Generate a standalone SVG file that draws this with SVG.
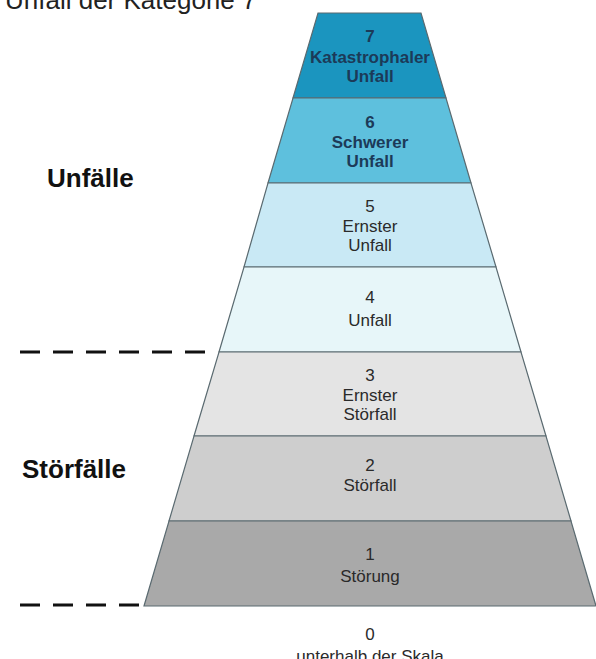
<svg xmlns="http://www.w3.org/2000/svg" width="596" height="659" viewBox="0 0 596 659">
<style>
.band{stroke:#5a6a70;stroke-width:1.2}
.t{font-family:"Liberation Sans",Arial,sans-serif;font-size:17px;text-anchor:middle}
.tb{fill:#1c3a58;font-weight:bold}
.tg{fill:#2a2a2a}
.side{font-family:"Liberation Sans",Arial,sans-serif;font-weight:bold;font-size:26px;fill:#111}
.dash{stroke:#111;stroke-width:3;stroke-dasharray:20 13;fill:none}
</style>
<rect width="596" height="659" fill="#ffffff"/>
<text x="5" y="9" style="font-family:'Liberation Sans',Arial,sans-serif;font-size:26px;fill:#222">Unfall der Kategorie 7</text>
<g id="band7"><polygon class="band" points="318,13 421,13 446,98 293,98" fill="#1b95bf" stroke="#1a5f78"/>
<text class="t tb" x="370" y="42">7</text><text class="t tb" x="370" y="63">Katastrophaler</text><text class="t tb" x="370" y="82">Unfall</text></g>
<g id="band6"><polygon class="band" points="293,98 446,98 471,183 268,183" fill="#5ec0dd" stroke="#2a7d98"/>
<text class="t tb" x="370" y="128">6</text><text class="t tb" x="370" y="148">Schwerer</text><text class="t tb" x="370" y="167">Unfall</text></g>
<g id="band5"><polygon class="band" points="268,183 471,183 496,267 244,267" fill="#c9e9f5" stroke="#587f8c"/>
<text class="t tg" x="370" y="212">5</text><text class="t tg" x="370" y="232">Ernster</text><text class="t tg" x="370" y="251">Unfall</text></g>
<g id="band4"><polygon class="band" points="244,267 496,267 521,352 219,352" fill="#e7f6f9" stroke="#6b8088"/>
<text class="t tg" x="370" y="303">4</text><text class="t tg" x="370" y="326">Unfall</text></g>
<g id="band3"><polygon class="band" points="219,352 521,352 546,436 194,436" fill="#e4e4e4" stroke="#707070"/>
<text class="t tg" x="370" y="381">3</text><text class="t tg" x="370" y="401">Ernster</text><text class="t tg" x="370" y="420">Störfall</text></g>
<g id="band2"><polygon class="band" points="194,436 546,436 571,521 169,521" fill="#cecece" stroke="#707070"/>
<text class="t tg" x="370" y="471">2</text><text class="t tg" x="370" y="491">Störfall</text></g>
<g id="band1"><polygon class="band" points="169,521 571,521 596,606 144,606" fill="#a9a9a9" stroke="#707070"/>
<text class="t tg" x="370" y="560">1</text><text class="t tg" x="370" y="582">Störung</text></g>
<g id="band0"><text class="t tg" x="370" y="640">0</text><text class="t tg" x="370" y="662">unterhalb der Skala</text></g>
<g id="unfaelle"><text class="side" x="47" y="187">Unfälle</text></g>
<g id="stoerfaelle"><text class="side" x="22" y="478">Störfälle</text></g>
<g id="connectors">
<line class="dash" x1="20" y1="352" x2="205" y2="352"/>
<line class="dash" x1="20" y1="605" x2="139" y2="605"/>
</g>
</svg>
